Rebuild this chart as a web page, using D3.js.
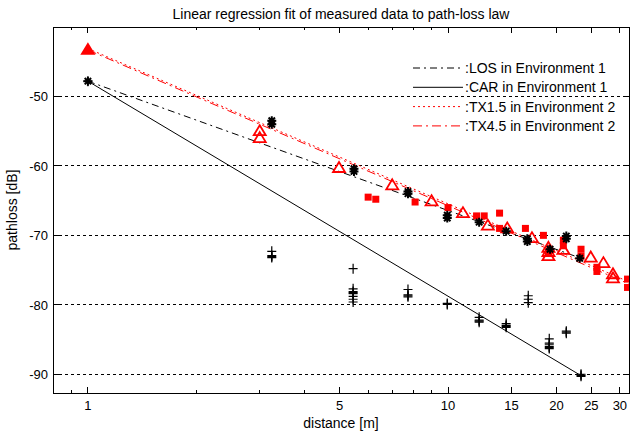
<!DOCTYPE html>
<html>
<head>
<meta charset="utf-8">
<script src="https://cdn.jsdelivr.net/npm/d3@7"></script>
<style>
  body { margin: 0; background: #fff; }
  text { font-family: "Liberation Sans", Arial, sans-serif; fill: #000; }
</style>
</head>
<body>
<svg id="chart" width="630" height="436"></svg>
<script>
// tick values
const xMajorTicks = [1, 5, 10, 15, 20, 25, 30];
const xMinorTicks = [0.9, 2, 3, 4, 6, 7, 8, 9];
const yTicks = [-90, -80, -70, -60, -50];

// measured data [distance m, pathloss dB]
const losPoints = [[1, -47.8], [3.24, -53.5], [3.24, -54.0], [5.48, -60.4], [5.48, -60.8], [7.74, -63.7], [7.74, -64.0],
  [9.95, -67.1], [9.95, -67.5], [12.2, -68.1], [14.5, -69.4], [16.6, -70.5], [16.6, -70.9], [19.2, -72.0],
  [21.3, -70.1], [21.3, -70.5], [23.2, -73.3]];
const carPoints = [[1, -47.8],
  [3.24, -72.3], [3.24, -72.9], [3.24, -73.05], [3.24, -73.2],
  [5.45, -74.8], [5.45, -77.7], [5.45, -78.1], [5.45, -78.25], [5.45, -78.4], [5.45, -78.8], [5.45, -79.2], [5.45, -79.6],
  [7.74, -77.8], [7.74, -78.55], [7.74, -78.7], [7.74, -78.85],
  [9.95, -79.8], [9.95, -79.95],
  [12.2, -81.8], [12.2, -82.2], [12.2, -82.35], [12.2, -82.5],
  [14.5, -82.7], [14.5, -82.95], [14.5, -83.1], [14.5, -83.25],
  [16.7, -78.7], [16.7, -79.2], [16.7, -79.7],
  [19.1, -84.9], [19.1, -85.5], [19.1, -85.65], [19.1, -86.0], [19.1, -86.15], [19.1, -86.3],
  [21.3, -83.8], [21.3, -83.95], [21.3, -84.1],
  [23.4, -90.0], [23.4, -90.15], [23.4, -90.3]];
const tx45Start = [[1, -43.3]];
const tx45Points = [[3.0, -55.0], [3.0, -56.0], [4.98, -60.3], [7.0, -62.8], [9.0, -65.1], [11.0, -66.8], [12.9, -68.6],
  [14.6, -69.0], [17.1, -70.4], [19.0, -71.8], [19.0, -72.4], [19.0, -73.0], [20.9, -72.1], [24.9, -73.2],
  [27.0, -74.0], [28.7, -75.6], [28.7, -76.2]];
const tx15Points = [[6.0, -64.5], [6.3, -64.8], [8.1, -65.2], [10.0, -66.0], [12.0, -67.2], [12.6, -67.2], [13.9, -66.8],
  [13.9, -69.0], [16.4, -69.0], [18.4, -70.0], [19.0, -72.5], [20.9, -70.7], [20.9, -71.5], [23.4, -72.0], [23.4, -73.0],
  [25.9, -74.6], [25.9, -75.2], [31.5, -76.3], [31.5, -77.5]];

// regression fits (end points)
const losFit = [[1, -47.8], [23.4, -73.3]];
const carFit = [[1, -47.8], [23.4, -90.2]];
const tx15Fit = [[1, -43.1], [31.8, -76.7]];
const tx45Fit = [[1, -43.3], [31.8, -77.0]];

const legendLabels = [":LOS in Environment 1", ":CAR in Environment 1", ":TX1.5 in Environment 2", ":TX4.5 in Environment 2"];

const svg = d3.select("#chart");
const plotL = 53, plotR = 629, plotT = 27, plotB = 393;

const x = d3.scaleLog().domain([0.8, 31.8]).range([plotL, plotR]);
const y = d3.scaleLinear().domain([-92.7, -40]).range([plotB, plotT]);

svg.append("defs").append("clipPath").attr("id", "clip")
  .append("rect").attr("x", plotL).attr("y", plotT).attr("width", plotR - plotL).attr("height", plotB - plotT);

// grid
svg.append("g").selectAll("line").data(yTicks).enter().append("line")
  .attr("x1", plotL).attr("x2", plotR)
  .attr("y1", d => y(d)).attr("y2", d => y(d))
  .attr("stroke", "#000").attr("stroke-width", 1).attr("stroke-dasharray", "3,3")
  .attr("shape-rendering", "crispEdges");

// fit lines
const line = d3.line().x(d => x(d[0])).y(d => y(d[1]));
const plot = svg.append("g").attr("clip-path", "url(#clip)");
const fits = [
  { data: losFit, color: "#000", dash: "7,4,2,4" },
  { data: carFit, color: "#000", dash: null },
  { data: tx15Fit, color: "#f00", dash: "2,3" },
  { data: tx45Fit, color: "#f00", dash: "9,4,2,4" }
];
fits.forEach(f => {
  plot.append("path").datum(f.data).attr("d", line)
    .attr("fill", "none").attr("stroke", f.color).attr("stroke-width", 1)
    .attr("stroke-dasharray", f.dash);
});

// markers
const starPath = "M-4.5,0H4.5M0,-4.5V4.5M-3.2,-3.2L3.2,3.2M-3.2,3.2L3.2,-3.2";
const plusPath = "M-4.5,0H4.5M0,-5V5";
const triPath = "M0,-6L6,4L-6,4Z";

plot.append("g").selectAll("rect").data(tx15Points).enter().append("rect")
  .attr("x", d => x(d[0]) - 3.5).attr("y", d => y(d[1]) - 3.5)
  .attr("width", 7).attr("height", 7).attr("fill", "#f00");

plot.append("g").selectAll("path").data(tx45Points).enter().append("path")
  .attr("d", triPath).attr("transform", d => `translate(${x(d[0])},${y(d[1])})`)
  .attr("fill", "none").attr("stroke", "#f00").attr("stroke-width", 1.8);

plot.append("g").selectAll("path").data(tx45Start).enter().append("path")
  .attr("d", triPath).attr("transform", d => `translate(${x(d[0])},${y(d[1])})`)
  .attr("fill", "#f00").attr("stroke", "#f00").attr("stroke-width", 1.8);

plot.append("g").selectAll("path").data(carPoints).enter().append("path")
  .attr("d", plusPath).attr("transform", d => `translate(${x(d[0])},${y(d[1])})`)
  .attr("fill", "none").attr("stroke", "#000").attr("stroke-width", 1.2);

plot.append("g").selectAll("path").data(losPoints).enter().append("path")
  .attr("d", starPath).attr("transform", d => `translate(${x(d[0])},${y(d[1])})`)
  .attr("fill", "none").attr("stroke", "#000").attr("stroke-width", 2);

// axes box and ticks
svg.append("rect").attr("x", plotL).attr("y", plotT).attr("width", plotR - plotL).attr("height", plotB - plotT)
  .attr("fill", "none").attr("stroke", "#000").attr("stroke-width", 1).attr("shape-rendering", "crispEdges");

const ticks = svg.append("g").attr("stroke", "#000").attr("shape-rendering", "crispEdges");
xMajorTicks.forEach(t => {
  ticks.append("line").attr("x1", x(t)).attr("x2", x(t)).attr("y1", plotB).attr("y2", plotB - 6);
  ticks.append("line").attr("x1", x(t)).attr("x2", x(t)).attr("y1", plotT).attr("y2", plotT + 6);
});
xMinorTicks.forEach(t => {
  ticks.append("line").attr("x1", x(t)).attr("x2", x(t)).attr("y1", plotB).attr("y2", plotB - 3);
  ticks.append("line").attr("x1", x(t)).attr("x2", x(t)).attr("y1", plotT).attr("y2", plotT + 3);
});
yTicks.forEach(t => {
  ticks.append("line").attr("x1", plotL).attr("x2", plotL + 6).attr("y1", y(t)).attr("y2", y(t));
  ticks.append("line").attr("x1", plotR).attr("x2", plotR - 6).attr("y1", y(t)).attr("y2", y(t));
});

svg.append("g").selectAll("text").data(xMajorTicks).enter().append("text")
  .attr("x", d => x(d)).attr("y", plotB + 17).attr("text-anchor", "middle")
  .attr("font-size", 13).text(d => d);

svg.append("g").selectAll("text").data(yTicks).enter().append("text")
  .attr("x", plotL - 5).attr("y", d => y(d) + 5).attr("text-anchor", "end")
  .attr("font-size", 13).text(d => d);

// titles
svg.append("text").attr("x", (plotL + plotR) / 2).attr("y", 19).attr("text-anchor", "middle")
  .attr("font-size", 14).text("Linear regression fit of measured data to path-loss law");
svg.append("text").attr("x", (plotL + plotR) / 2).attr("y", 428).attr("text-anchor", "middle")
  .attr("font-size", 14).text("distance [m]");
svg.append("text").attr("transform", `translate(17,${(plotT + plotB) / 2}) rotate(-90)`)
  .attr("text-anchor", "middle").attr("font-size", 14).text("pathloss [dB]");

// legend
const legend = svg.append("g");
legendLabels.forEach((lab, i) => {
  const ly = 68 + i * 19.3;
  legend.append("line").attr("x1", 413).attr("x2", 463).attr("y1", ly).attr("y2", ly)
    .attr("stroke", fits[i].color).attr("stroke-width", 1).attr("stroke-dasharray", fits[i].dash);
  legend.append("text").attr("x", 465).attr("y", ly + 5).attr("font-size", 14).text(lab);
});
</script>
</body>
</html>
